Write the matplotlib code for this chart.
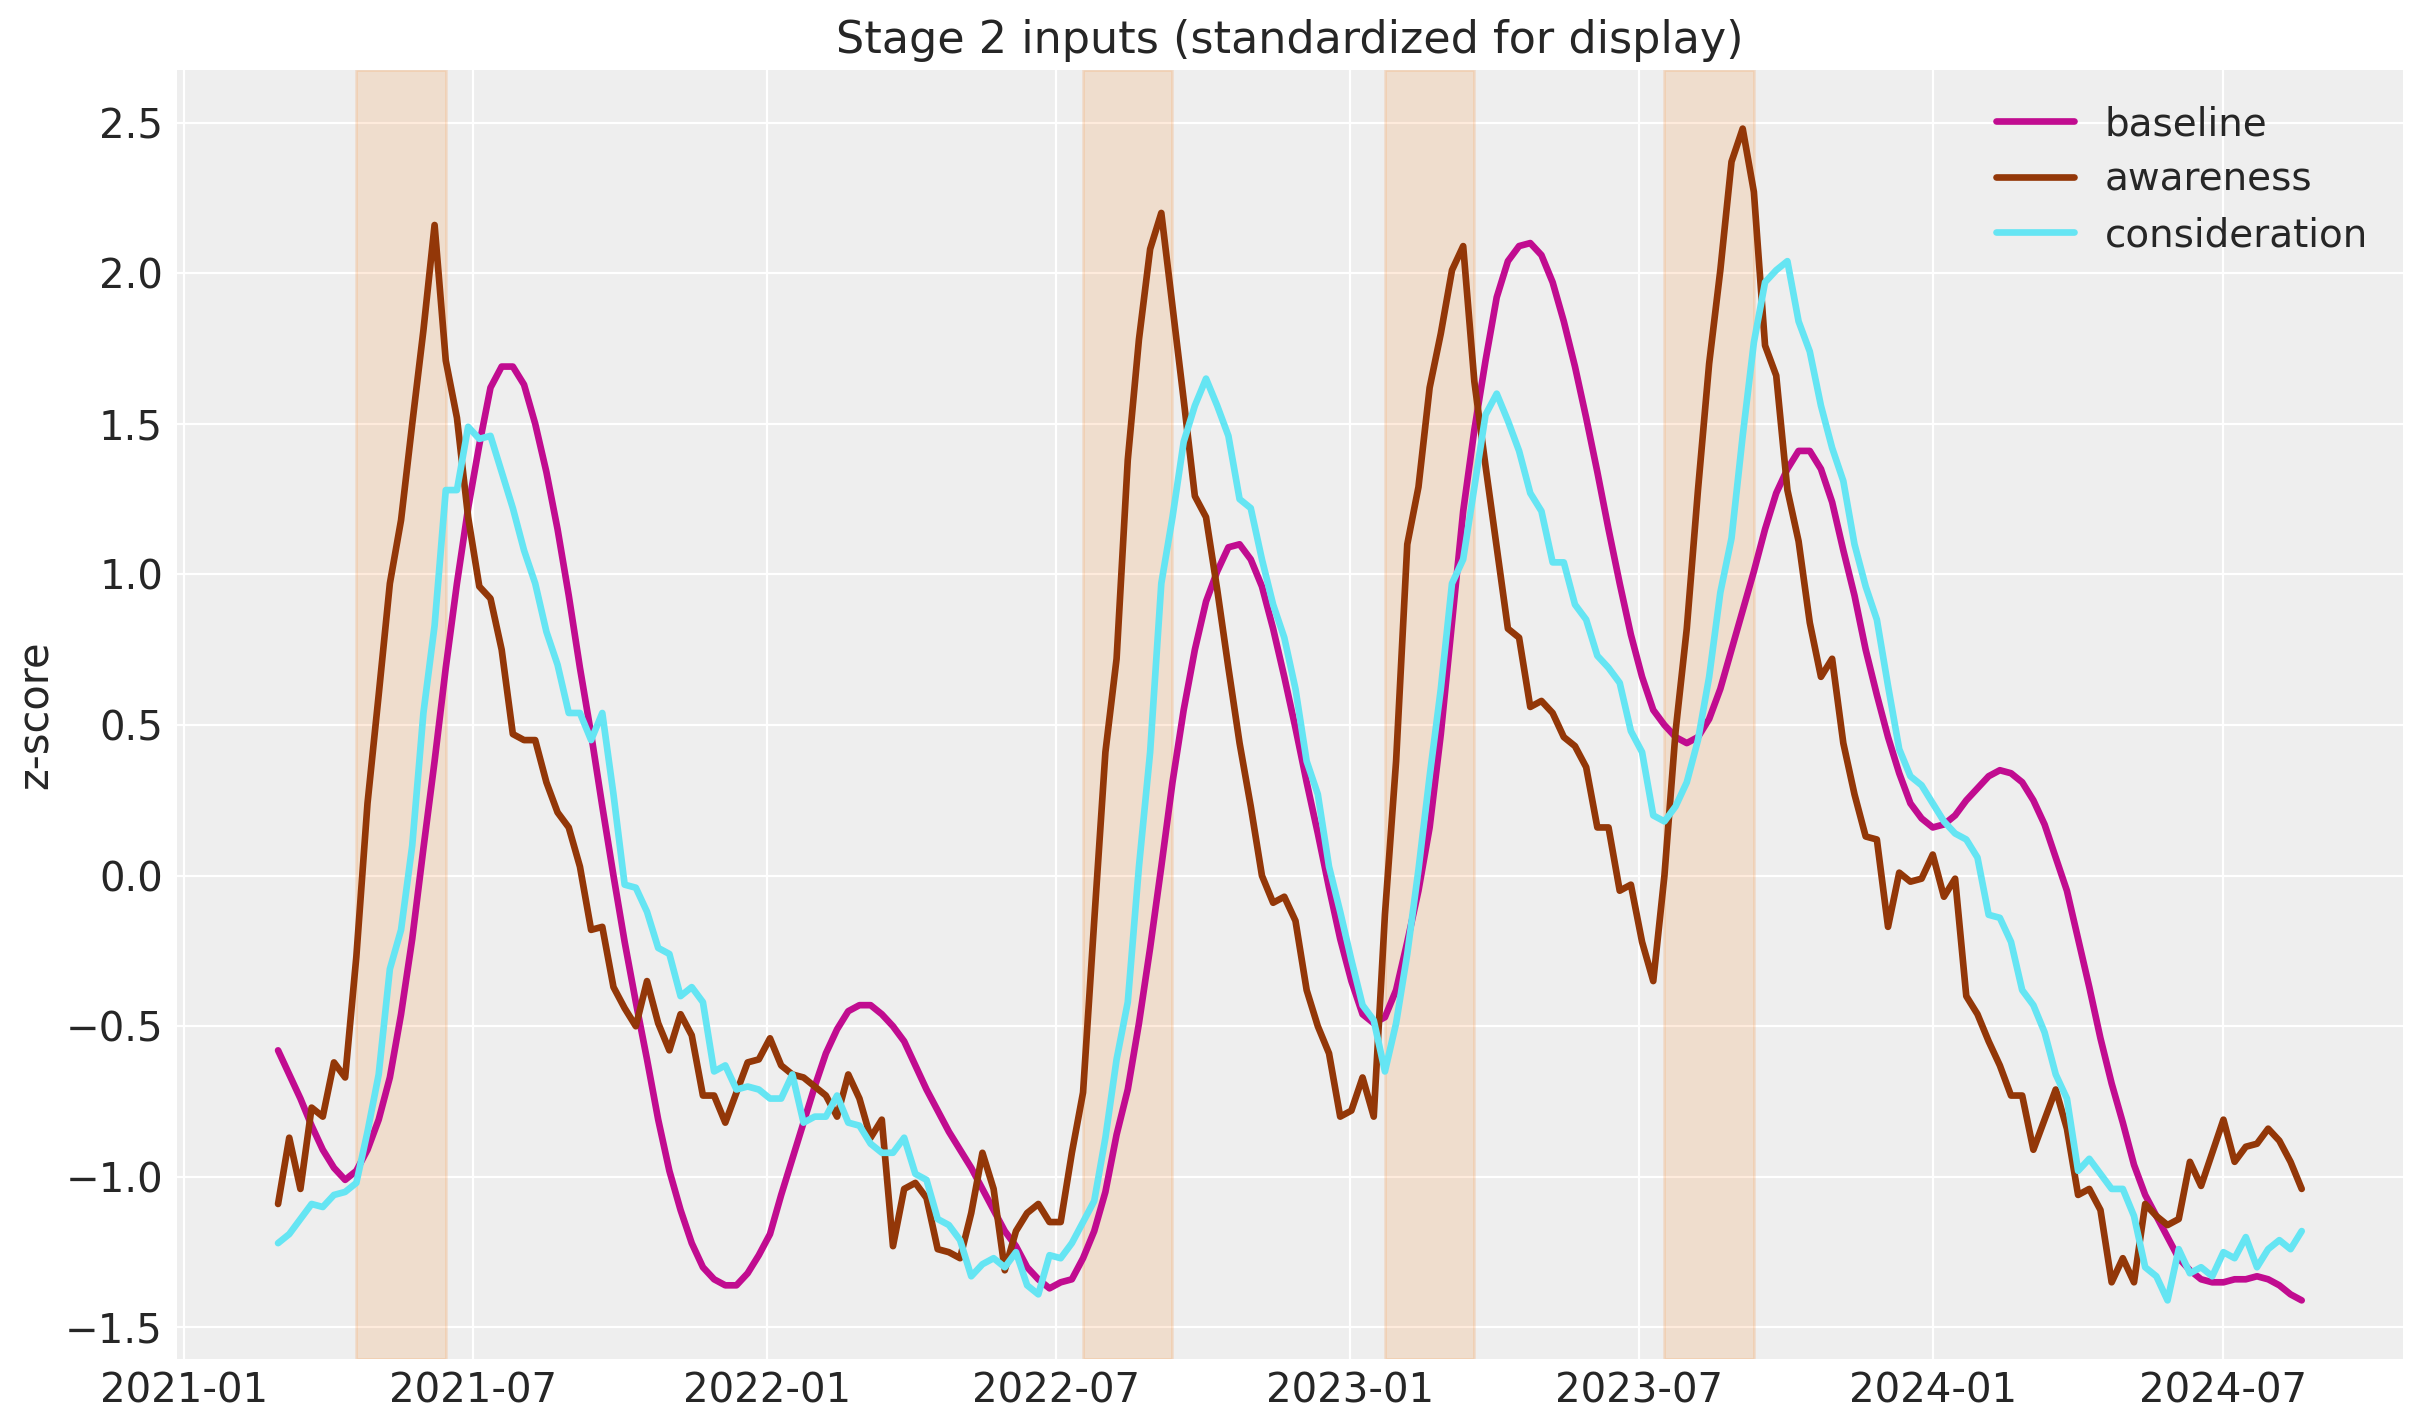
import matplotlib
matplotlib.use("Agg")
import matplotlib.pyplot as plt
import pandas as pd

# weekly series, 2021-03-01 .. 2024-08-19
weeks = pd.date_range("2021-03-01", periods=182, freq="7D")

baseline = [
    -0.58, -0.66, -0.74, -0.83, -0.91, -0.97, -1.01, -0.98, -0.91, -0.81,
    -0.67, -0.46, -0.21, 0.09, 0.38, 0.69, 0.97, 1.22, 1.43, 1.62,
    1.69, 1.69, 1.63, 1.50, 1.34, 1.15, 0.93, 0.69, 0.47, 0.23,
    0.00, -0.22, -0.42, -0.61, -0.81, -0.98, -1.11, -1.22, -1.30, -1.34,
    -1.36, -1.36, -1.32, -1.26, -1.19, -1.06, -0.94, -0.82, -0.70, -0.59,
    -0.51, -0.45, -0.43, -0.43, -0.46, -0.50, -0.55, -0.63, -0.71, -0.78,
    -0.85, -0.91, -0.97, -1.04, -1.11, -1.18, -1.23, -1.30, -1.34, -1.37,
    -1.35, -1.34, -1.27, -1.18, -1.05, -0.86, -0.71, -0.49, -0.24, 0.03,
    0.31, 0.55, 0.75, 0.91, 1.01, 1.09, 1.10, 1.05, 0.96, 0.82,
    0.66, 0.49, 0.31, 0.14, -0.04, -0.21, -0.35, -0.46, -0.49, -0.47,
    -0.38, -0.22, -0.05, 0.16, 0.47, 0.84, 1.21, 1.48, 1.71, 1.92,
    2.04, 2.09, 2.10, 2.06, 1.97, 1.84, 1.69, 1.52, 1.34, 1.15,
    0.97, 0.80, 0.66, 0.55, 0.50, 0.46, 0.44, 0.46, 0.52, 0.62,
    0.75, 0.88, 1.01, 1.15, 1.27, 1.35, 1.41, 1.41, 1.35, 1.24,
    1.08, 0.93, 0.75, 0.60, 0.46, 0.34, 0.24, 0.19, 0.16, 0.17,
    0.20, 0.25, 0.29, 0.33, 0.35, 0.34, 0.31, 0.25, 0.17, 0.06,
    -0.05, -0.21, -0.37, -0.54, -0.69, -0.82, -0.96, -1.06, -1.13, -1.20,
    -1.27, -1.31, -1.34, -1.35, -1.35, -1.34, -1.34, -1.33, -1.34, -1.36,
    -1.39, -1.41,
]

awareness = [
    -1.09, -0.87, -1.04, -0.77, -0.80, -0.62, -0.67, -0.27, 0.24, 0.60,
    0.97, 1.18, 1.50, 1.81, 2.16, 1.71, 1.52, 1.19, 0.96, 0.92,
    0.75, 0.47, 0.45, 0.45, 0.31, 0.21, 0.16, 0.03, -0.18, -0.17,
    -0.37, -0.44, -0.50, -0.35, -0.49, -0.58, -0.46, -0.53, -0.73, -0.73,
    -0.82, -0.72, -0.62, -0.61, -0.54, -0.63, -0.66, -0.67, -0.70, -0.73,
    -0.80, -0.66, -0.74, -0.87, -0.81, -1.23, -1.04, -1.02, -1.07, -1.24,
    -1.25, -1.27, -1.12, -0.92, -1.04, -1.31, -1.18, -1.12, -1.09, -1.15,
    -1.15, -0.92, -0.72, -0.15, 0.41, 0.72, 1.38, 1.78, 2.08, 2.20,
    1.89, 1.58, 1.26, 1.19, 0.95, 0.69, 0.44, 0.23, 0.00, -0.09,
    -0.07, -0.15, -0.38, -0.50, -0.59, -0.80, -0.78, -0.67, -0.80, -0.13,
    0.38, 1.10, 1.29, 1.62, 1.80, 2.01, 2.09, 1.64, 1.36, 1.09,
    0.82, 0.79, 0.56, 0.58, 0.54, 0.46, 0.43, 0.36, 0.16, 0.16,
    -0.05, -0.03, -0.22, -0.35, 0.00, 0.48, 0.82, 1.28, 1.70, 2.01,
    2.37, 2.48, 2.27, 1.76, 1.66, 1.28, 1.11, 0.84, 0.66, 0.72,
    0.44, 0.27, 0.13, 0.12, -0.17, 0.01, -0.02, -0.01, 0.07, -0.07,
    -0.01, -0.40, -0.46, -0.55, -0.63, -0.73, -0.73, -0.91, -0.81, -0.71,
    -0.84, -1.06, -1.04, -1.11, -1.35, -1.27, -1.35, -1.09, -1.13, -1.16,
    -1.14, -0.95, -1.03, -0.92, -0.81, -0.95, -0.90, -0.89, -0.84, -0.88,
    -0.95, -1.04,
]

consideration = [
    -1.22, -1.19, -1.14, -1.09, -1.10, -1.06, -1.05, -1.02, -0.85, -0.66,
    -0.31, -0.18, 0.10, 0.54, 0.83, 1.28, 1.28, 1.49, 1.45, 1.46,
    1.34, 1.22, 1.08, 0.97, 0.81, 0.70, 0.54, 0.54, 0.45, 0.54,
    0.27, -0.03, -0.04, -0.12, -0.24, -0.26, -0.40, -0.37, -0.42, -0.65,
    -0.63, -0.71, -0.70, -0.71, -0.74, -0.74, -0.66, -0.82, -0.80, -0.80,
    -0.73, -0.82, -0.83, -0.89, -0.92, -0.92, -0.87, -0.99, -1.01, -1.14,
    -1.16, -1.21, -1.33, -1.29, -1.27, -1.30, -1.25, -1.36, -1.39, -1.26,
    -1.27, -1.22, -1.15, -1.08, -0.87, -0.61, -0.42, 0.03, 0.41, 0.97,
    1.19, 1.44, 1.56, 1.65, 1.56, 1.46, 1.25, 1.22, 1.05, 0.90,
    0.79, 0.62, 0.38, 0.27, 0.03, -0.12, -0.28, -0.43, -0.48, -0.65,
    -0.49, -0.26, 0.02, 0.33, 0.62, 0.97, 1.05, 1.29, 1.53, 1.60,
    1.51, 1.41, 1.27, 1.21, 1.04, 1.04, 0.90, 0.85, 0.73, 0.69,
    0.64, 0.48, 0.41, 0.20, 0.18, 0.23, 0.31, 0.45, 0.66, 0.94,
    1.12, 1.46, 1.77, 1.97, 2.01, 2.04, 1.84, 1.74, 1.56, 1.42,
    1.31, 1.10, 0.96, 0.85, 0.63, 0.42, 0.33, 0.30, 0.24, 0.18,
    0.14, 0.12, 0.06, -0.13, -0.14, -0.22, -0.38, -0.43, -0.52, -0.66,
    -0.74, -0.98, -0.94, -0.99, -1.04, -1.04, -1.13, -1.30, -1.33, -1.41,
    -1.24, -1.32, -1.30, -1.33, -1.25, -1.27, -1.20, -1.30, -1.24, -1.21,
    -1.24, -1.18,
]

# shaded flight windows
flight_starts = ["2021-04-19", "2022-07-18", "2023-01-23", "2023-07-17"]
flight_ends = ["2021-06-14", "2022-09-12", "2023-03-20", "2023-09-11"]

plt.rcParams.update({
    "font.family": ["DejaVu Sans"],
    "axes.facecolor": "#eeeeee",
    "axes.edgecolor": "white",
    "axes.grid": True,
    "grid.color": "white",
    "grid.linewidth": 0.8,
    "axes.axisbelow": True,
    "text.color": "#262626",
    "axes.labelcolor": "#262626",
    "xtick.color": "#262626",
    "ytick.color": "#262626",
    "xtick.major.size": 0,
    "ytick.major.size": 0,
    "xtick.major.pad": 4.5,
    "ytick.major.pad": 5,
    "xtick.labelsize": 14.5,
    "ytick.labelsize": 14.5,
    "lines.solid_capstyle": "round",
})

fig = plt.figure(figsize=(2423 / 200, 1423 / 200), dpi=200)
ax = fig.add_axes([0.073, 0.045, 0.9187, 0.9058])
for s in ax.spines.values():
    s.set_visible(False)

for a, b in zip(flight_starts, flight_ends):
    ax.axvspan(pd.Timestamp(a), pd.Timestamp(b), color="#fa7c17", alpha=0.15)

ax.plot(weeks, baseline, color="#c10c90", lw=2.4, label="baseline")
ax.plot(weeks, awareness, color="#933708", lw=2.4, label="awareness")
ax.plot(weeks, consideration, color="#65e5f3", lw=2.4, label="consideration")

ax.set_title("Stage 2 inputs (standardized for display)", fontsize=16)
ax.set_ylabel("z-score", fontsize=15)
ax.yaxis.set_label_coords(-0.054, 0.5)
ax.legend(loc="upper right", frameon=False, fontsize=14, labelspacing=0.45)

fig.savefig("out.png", dpi=200)
